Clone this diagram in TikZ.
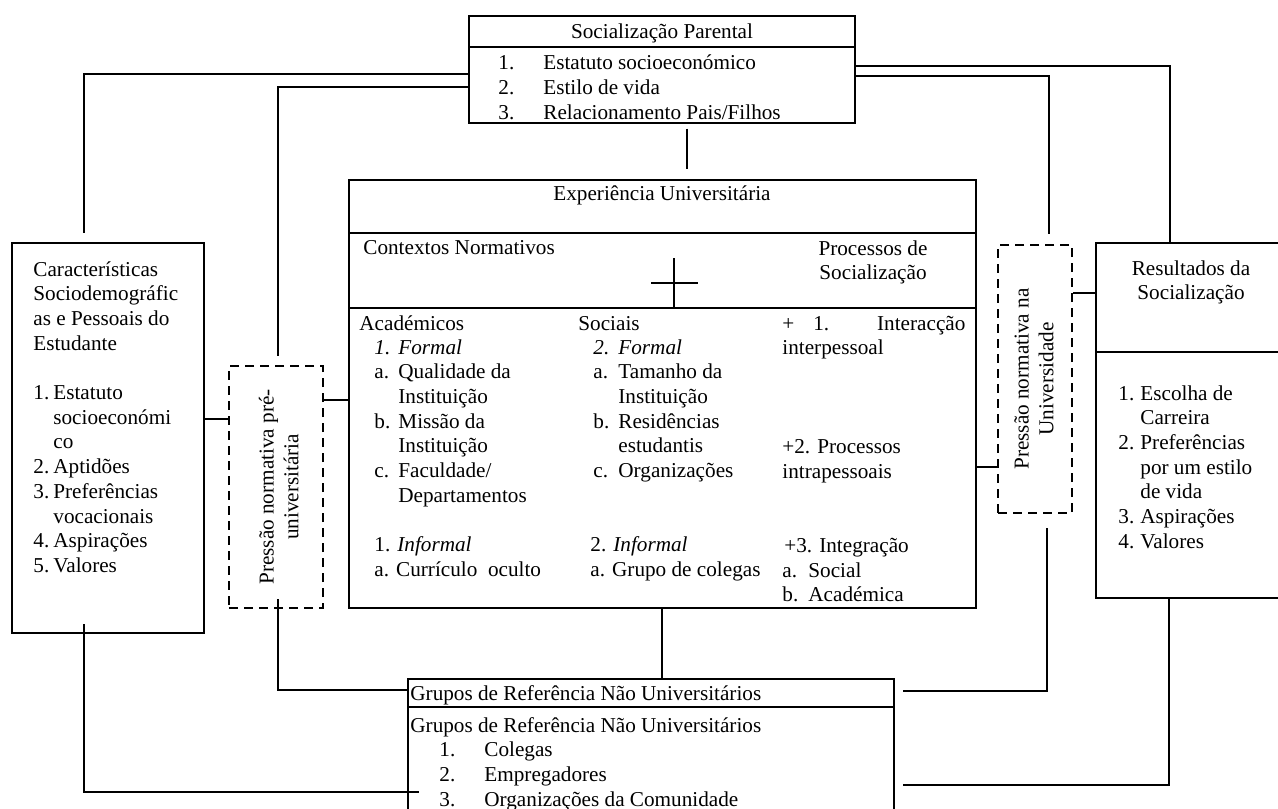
\documentclass[tikz,border=0pt]{standalone}
\usepackage{fontspec}
\setmainfont{Liberation Serif}
\usetikzlibrary{fit}
\newcommand{\tfont}{\fontsize{10.6}{12.35}\selectfont}
\begin{document}
\begin{tikzpicture}[x=0.5pt,y=-0.5pt,
  box/.style={draw, line width=0.7pt, inner sep=0pt},
  dbox/.style={draw, line width=1pt, dash pattern=on 4.5pt off 3pt, inner sep=0pt},
  conn/.style={line width=1pt},
  divl/.style={line width=0.6pt},
  txt/.style={inner sep=0pt, anchor=base west, font=\tfont},
  ctxt/.style={inner sep=0pt, anchor=base, font=\tfont},
  rtxt/.style={inner sep=0pt, rotate=90, font=\tfont},
]
\useasboundingbox (0,0) rectangle (1278,808);
\clip (0,0) rectangle (1278,808);

% ---------- Socializacao Parental ----------
\node[box, fit={(469,16) (855,123)}] (top) {};
\draw[divl] (top.west |- 0,47) -- (top.east |- 0,47);
\node[ctxt] (toptitle) at (662,39) {Socialização Parental};
\node[txt] (toplist) at (498,70) {\begin{tabular}[t]{@{}p{22.5pt}@{}l@{}}
1. & Estatuto socioeconómico\\
2. & Estilo de vida\\
3. & Relacionamento Pais/Filhos
\end{tabular}};

% ---------- Experiencia Universitaria ----------
\node[box, fit={(349,180) (976,608)}] (cbox) {};
\draw[divl] (cbox.west |- 0,233) -- (cbox.east |- 0,233);
\draw[divl] (cbox.west |- 0,308) -- (cbox.east |- 0,308);
\node[ctxt] (cetitle) at (662,200) {Experiência Universitária};
\node[txt] (ctxn) at (363,254) {Contextos Normativos};
\node[ctxt] (procs) at (873,255) {\begin{tabular}[t]{@{}c@{}}Processos de\\Socialização\end{tabular}};
\draw[line width=1.2pt] (651,283) -- (698,283);
\draw[line width=1.2pt] (674,258) -- (674,307);

\node[txt] (acad) at (359,330) {Académicos};
\node[txt] (col1) at (374,354) {\begin{tabular}[t]{@{}p{12pt}@{}l@{}}
\textit{1.} & \textit{Formal}\\
a. & Qualidade da\\
 & Instituição\\
b. & Missão da\\
 & Instituição\\
c. & Faculdade/\\
 & Departamentos\\
 & \\
\multicolumn{2}{@{}l@{}}{1. \textit{Informal}}\\
\multicolumn{2}{@{}l@{}}{a. Currículo\ \ oculto}
\end{tabular}};

\node[txt] (soc) at (578,330) {Sociais};
\node[txt] (col2) at (593,354) {\begin{tabular}[t]{@{}p{12.5pt}@{}l@{}}
\textit{2.} & \textit{Formal}\\
a. & Tamanho da\\
 & Instituição\\
b. & Residências\\
 & estudantis\\
c. & Organizações\\
 & \\
 & \\
\multicolumn{2}{@{\hspace{-1.5pt}}l@{}}{2. \textit{Informal}}\\
\multicolumn{2}{@{\hspace{-1.5pt}}l@{}}{a. Grupo de colegas}
\end{tabular}};

\node[txt] (col3) at (782,330) {\begin{tabular}[t]{@{}p{13pt}@{}l@{}}
\multicolumn{2}{@{}l@{}}{\makebox[91.5pt][s]{+ 1. Interacção}}\\
\multicolumn{2}{@{}l@{}}{interpessoal}\\
 & \\
 & \\
 & \\
\multicolumn{2}{@{}l@{}}{+2. Processos}\\
\multicolumn{2}{@{}l@{}}{intrapessoais}\\
 & \\
 & \\
\multicolumn{2}{@{\hspace{1pt}}l@{}}{+3. Integração}\\
a. & Social\\
b. & Académica
\end{tabular}};

% ---------- Caracteristicas ----------
\node[box, line width=1pt, fit={(12,243) (204,633)}] (lbox) {};
\node[txt] (lboxtxt) at (33,276) {\begin{tabular}[t]{@{}p{10pt}@{}l@{}}
\multicolumn{2}{@{}l@{}}{Características}\\
\multicolumn{2}{@{}l@{}}{Sociodemográfic}\\
\multicolumn{2}{@{}l@{}}{as e Pessoais do}\\
\multicolumn{2}{@{}l@{}}{Estudante}\\
 & \\
1. & Estatuto\\
 & socioeconómi\\
 & co\\
2. & Aptidões\\
3. & Preferências\\
 & vocacionais\\
4. & Aspirações\\
5. & Valores
\end{tabular}};

% ---------- dashed boxes ----------
\node[dbox, fit={(229,366) (323,608)}] (dl) {};
\node[rtxt] (dltxt) at (281,487) {\begin{tabular}{@{}c@{}}Pressão normativa pré-\\universitária\end{tabular}};
\node[dbox, fit={(998,245) (1072,513)}] (dr) {};
\node[rtxt] (drtxt) at (1036,379) {\begin{tabular}{@{}c@{}}Pressão normativa na\\Universidade\end{tabular}};

% ---------- Resultados ----------
\node[box, fit={(1096,243) (1300,598)}] (rbox) {};
\draw[divl] (rbox.west |- 0,352) -- (rbox.east |- 0,352);
\node[ctxt] (rtitle) at (1191,275) {\begin{tabular}[t]{@{}c@{}}Resultados da\\Socialização\end{tabular}};
\node[txt] (rlist) at (1118,400) {\begin{tabular}[t]{@{}p{11pt}@{}l@{}}
1. & Escolha de\\
 & Carreira\\
2. & Preferências\\
 & por um estilo\\
 & de vida\\
3. & Aspirações\\
4. & Valores
\end{tabular}};

% ---------- Grupos de Referencia ----------
\node[box, fit={(408,679) (894,830)}] (bbox) {};
\draw[divl] (bbox.west |- 0,707) -- (bbox.east |- 0,707);
\node[txt] (bhead) at (410,700) {Grupos de Referência Não Universitários};
\node[txt] (blist) at (410,732) {\begin{tabular}[t]{@{\hspace{14.5pt}}p{22.5pt}@{}l@{}}
\multicolumn{2}{@{}l@{}}{Grupos de Referência Não Universitários}\\
1. & Colegas\\
2. & Empregadores\\
3. & Organizações da Comunidade
\end{tabular}};

% ---------- connectors ----------
\draw[conn, shorten >=4.5pt] (top.west |- 0,74) -| (84,0 |- lbox.north);
\draw[conn, shorten >=4.5pt] (top.west |- 0,87) -| (278,0 |- dl.north);
\draw[conn] (top.east |- 0,66) -| (1170,0 |- rbox.north);
\draw[conn, shorten >=5pt] (top.east |- 0,76) -| (1049,0 |- dr.north);
\draw[conn, shorten <=2.5pt, shorten >=5pt] (687,0 |- top.south) -- (687,0 |- cbox.north);
\draw[conn] (lbox.east |- 0,419) -- (dl.west |- 0,419);
\draw[conn] (dl.east |- 0,400) -- (cbox.west |- 0,400);
\draw[conn] (cbox.east |- 0,467) -- (dr.west |- 0,467);
\draw[conn] (dr.east |- 0,293) -- (rbox.west |- 0,293);
\draw[conn] (662,0 |- cbox.south) -- (662,0 |- bbox.north);
\draw[conn, shorten <=-5pt] (278,0 |- dl.south) |- (bbox.west |- 0,690);
\draw[conn, shorten <=-5pt, shorten >=-6pt] (84,0 |- lbox.south) |- (bbox.west |- 0,792);
\draw[conn, shorten <=7pt, shorten >=4pt] (1047,0 |- dr.south) |- (bbox.east |- 0,691);
\draw[conn, shorten >=4pt] (1169,0 |- rbox.south) |- (bbox.east |- 0,785);
\end{tikzpicture}
\end{document}
